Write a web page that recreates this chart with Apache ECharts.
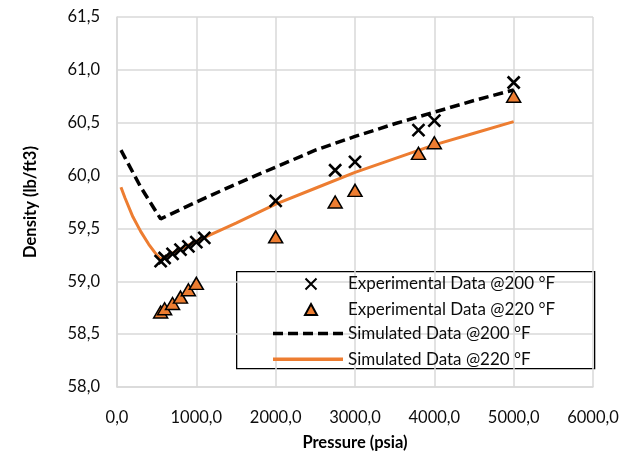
<!DOCTYPE html>
<html>
<head>
<meta charset="utf-8">
<script src="https://cdn.jsdelivr.net/npm/echarts@6/dist/echarts.min.js"></script>
<style>
html,body{margin:0;padding:0;background:#fff;}
#chart{width:633px;height:453px;}
</style>
</head>
<body>
<div id="chart"></div>
<script>
// Experimental data @200 °F
var pressure200Exp = [550, 600, 700, 800, 900, 1000, 1100, 2000, 2750, 3000, 3800, 4000, 5000];
var density200Exp  = [59.19, 59.22, 59.26, 59.30, 59.33, 59.37, 59.41, 59.76, 60.05, 60.13, 60.43, 60.52, 60.88];
// Experimental data @220 °F
var pressure220Exp = [550, 600, 700, 800, 900, 1000, 2000, 2750, 3000, 3800, 4000, 5000];
var density220Exp  = [58.71, 58.74, 58.79, 58.85, 58.92, 58.98, 59.42, 59.75, 59.86, 60.21, 60.31, 60.75];
// Simulated data
var simPressure = [50, 100, 200, 300, 400, 500, 550, 1000, 1500, 2000, 2500, 3000, 3500, 4000, 4500, 5000];
var sim200 = [60.24, 60.17, 60.03, 59.89, 59.77, 59.65, 59.59, 59.75, 59.92, 60.08, 60.24, 60.37, 60.49, 60.60, 60.71, 60.81];
var sim220 = [59.89, 59.79, 59.61, 59.47, 59.35, 59.25, 59.21, 59.38, 59.55, 59.73, 59.88, 60.03, 60.16, 60.29, 60.40, 60.51];
var seriesNames = ['Experimental Data @200 °F', 'Experimental Data @220 °F', 'Simulated Data @200 °F', 'Simulated Data @220 °F'];
var xTicks = {min: 0, max: 6000, interval: 1000};
var yTicks = {min: 58, max: 61.5, interval: 0.5};

function pairs(xs, ys) { return xs.map(function (x, i) { return [x, ys[i]]; }); }
function fmt(v) { return v.toFixed(1).replace('.', ','); }

var FONT = 'Lato';
var TXT = '#0d0d0d';
var chart = echarts.init(document.getElementById('chart'), null, {renderer: 'canvas'});
var grid = '#d9d9d9';
var crossPath = 'path://M0,0L10,10M10,0L0,10';
var dashIcon = 'path://M0,0h10v3.5h-10z M15,0h10v3.5h-10z M30,0h10v3.5h-10z M45,0h10v3.5h-10z M60,0h10v3.5h-10z';
var solidIcon = 'path://M0,0h70v3.5h-70z';
var legendText = {fontFamily: FONT, fontSize: 17, color: TXT, lineHeight: 18};
chart.setOption({
  animation: false,
  backgroundColor: '#fff',
  grid: {left: 117, right: 40, top: 17, bottom: 66, containLabel: false, outerBoundsMode: 'none'},
  xAxis: {
    type: 'value', min: xTicks.min, max: xTicks.max, interval: xTicks.interval,
    name: 'Pressure (psia)', nameLocation: 'middle', nameGap: 47,
    nameTextStyle: {fontFamily: FONT, fontSize: 16.5, fontWeight: 'bold', color: '#000'},
    axisLine: {show: true, lineStyle: {color: grid, width: 1.5}},
    axisTick: {show: false},
    splitLine: {show: true, lineStyle: {color: grid, width: 1.5}},
    axisLabel: {formatter: fmt, fontFamily: FONT, fontSize: 16.5, color: TXT, margin: 22}
  },
  yAxis: {
    type: 'value', min: yTicks.min, max: yTicks.max, interval: yTicks.interval,
    name: 'Density (lb/ft3)', nameLocation: 'middle', nameGap: 78, nameRotate: 90,
    nameTextStyle: {fontFamily: FONT, fontSize: 16.5, fontWeight: 'bold', color: '#000'},
    axisLine: {show: true, lineStyle: {color: grid, width: 1.5}},
    axisTick: {show: false},
    splitLine: {show: true, lineStyle: {color: grid, width: 1.5}},
    axisLabel: {formatter: fmt, fontFamily: FONT, fontSize: 16.5, color: TXT, margin: 17}
  },
  legend: [{
    orient: 'vertical', left: 303, top: 275, padding: 0,
    itemWidth: 12, itemHeight: 11, itemGap: 7.6,
    textStyle: Object.assign({padding: [0, 0, 0, 26]}, legendText),
    data: [seriesNames[0], seriesNames[1]]
  }, {
    orient: 'vertical', left: 273, top: 324.6, padding: 0,
    itemWidth: 70, itemHeight: 3.5, itemGap: 7.6,
    textStyle: Object.assign({padding: [0, 0, 0, 0]}, legendText),
    data: [
      {name: seriesNames[2], icon: dashIcon, itemStyle: {color: '#000'}},
      {name: seriesNames[3], icon: solidIcon, itemStyle: {color: '#ED7D31'}}
    ]
  }],
  graphic: [{
    type: 'rect', left: 236, top: 271, z: 0,
    shape: {width: 358, height: 97},
    style: {fill: '#fff', stroke: '#000', lineWidth: 1.3}
  }],
  series: [
    {
      name: seriesNames[2], type: 'line', data: pairs(simPressure, sim200),
      showSymbol: false, symbol: 'none', z: 2,
      lineStyle: {color: '#000', width: 3.5, type: [10, 5]}, itemStyle: {color: '#000'}
    },
    {
      name: seriesNames[3], type: 'line', data: pairs(simPressure, sim220),
      showSymbol: false, symbol: 'none', z: 2,
      lineStyle: {color: '#ED7D31', width: 3}, itemStyle: {color: '#ED7D31'}
    },
    {
      name: seriesNames[0], type: 'scatter', data: pairs(pressure200Exp, density200Exp),
      symbol: crossPath, symbolSize: 12, z: 3,
      itemStyle: {color: 'none', borderColor: '#000', borderWidth: 2.6, opacity: 1}
    },
    {
      name: seriesNames[1], type: 'scatter', data: pairs(pressure220Exp, density220Exp),
      symbol: 'triangle', symbolSize: [14, 12], z: 3,
      itemStyle: {color: '#ED7D31', borderColor: '#000', borderWidth: 1.5, opacity: 1}
    }
  ]
});
</script>
</body>
</html>
